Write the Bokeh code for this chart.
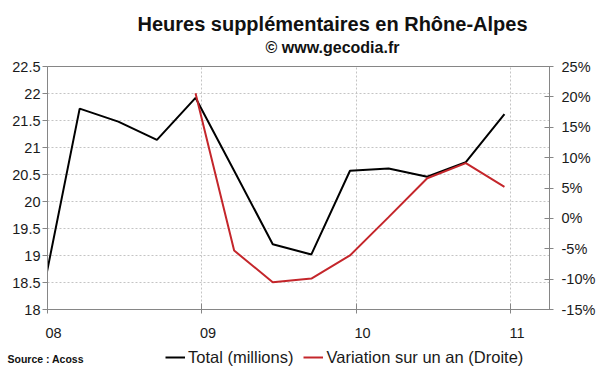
from bokeh.plotting import figure
from bokeh.models import (Range1d, LinearAxis, FixedTicker, PrintfTickFormatter,
                          Legend, LegendItem, Label)
from bokeh.layouts import column
from bokeh.embed import file_html
from bokeh.resources import INLINE

# ---- data ----
quarters = ["2007-T4", "2008-T1", "2008-T2", "2008-T3", "2008-T4",
            "2009-T1", "2009-T2", "2009-T3", "2009-T4",
            "2010-T1", "2010-T2", "2010-T3", "2010-T4"]
total_millions = [18.15, 21.72, 21.48, 21.14, 21.92, 20.57, 19.21, 19.02,
                  20.57, 20.61, 20.46, 20.73, 21.62]
variation_quarters = ["2008-T4", "2009-T1", "2009-T2", "2009-T3", "2009-T4",
                      "2010-T1", "2010-T2", "2010-T3", "2010-T4"]
variation_pct = [20.6, -5.3, -10.5, -9.9, -6.1, 0.2, 6.6, 9.1, 5.2]
year_ticks = [2008, 2009, 2010, 2011]
year_labels = ["08", "09", "10", "11"]
left_ticks = [18, 18.5, 19, 19.5, 20, 20.5, 21, 21.5, 22, 22.5]
right_ticks = [-15, -10, -5, 0, 5, 10, 15, 20, 25]

def qpos(q):
    y, t = q.split("-T")
    return int(y) + (3 * int(t) - 0.5) / 12.0

x_total = [qpos(q) for q in quarters]
x_var = [qpos(q) for q in variation_quarters]

FONT = "Liberation Sans"
AXIS_COL = "#868686"
GRID_COL = "#c4c4c4"
RED = "#c4262b"
TXT = "#1a1a1a"
NBSP = "\u00a0"


def strip(height):
    f = figure(width=600, height=height, output_backend="svg", toolbar_location=None,
               title=None, x_range=Range1d(0, 600), y_range=Range1d(0, height),
               min_border=0, x_axis_location=None, y_axis_location=None)
    f.frame_align = False
    f.xgrid.visible = False
    f.ygrid.visible = False
    f.outline_line_color = None
    f.background_fill_color = "white"
    f.border_fill_color = "white"
    return f


# ---- top strip: titles ----
t = strip(56)
t.add_layout(Label(x=332, y=33, text="Heures supplémentaires en Rhône-Alpes",
                   text_align="center", text_baseline="alphabetic", text_font=FONT,
                   text_font_size="20px", text_font_style="bold", text_color="#111111"))
t.add_layout(Label(x=332, y=9, text="© www.gecodia.fr",
                   text_align="center", text_baseline="alphabetic", text_font=FONT,
                   text_font_size="16px", text_font_style="bold", text_color="#111111"))

# ---- main chart ----
p = figure(width=600, height=290, output_backend="svg", toolbar_location=None,
           title=None,
           x_range=Range1d(2008, 2011.25), y_range=Range1d(18, 22.5),
           min_border_left=47, min_border_right=51, min_border_top=10,
           min_border_bottom=37, x_axis_location=None, y_axis_location=None)
p.frame_align = False
p.extra_y_ranges = {"pct": Range1d(-15, 25)}
p.background_fill_color = "white"
p.border_fill_color = "white"
p.outline_line_color = AXIS_COL
p.outline_line_width = 1

xaxis = LinearAxis(ticker=FixedTicker(ticks=year_ticks))
xaxis.major_label_overrides = {y: NBSP * 3 + lab for y, lab in zip(year_ticks, year_labels)}
xaxis.major_tick_in = 6
xaxis.major_tick_out = 4
xaxis.major_label_standoff = 11
xaxis.minor_tick_line_color = None
xaxis.axis_line_color = AXIS_COL
xaxis.major_tick_line_color = AXIS_COL
xaxis.major_label_text_font = FONT
xaxis.major_label_text_font_size = "14.5px"
xaxis.major_label_text_color = TXT
p.add_layout(xaxis, "below")

yaxis = LinearAxis(ticker=FixedTicker(ticks=left_ticks))
yaxis.major_label_overrides = {(int(v) if v == int(v) else v): (str(int(v)) if v == int(v) else str(v)) for v in left_ticks}
yaxis.major_tick_in = 0
yaxis.major_tick_out = 5
yaxis.major_label_standoff = 2
yaxis.minor_tick_line_color = None
yaxis.axis_line_color = AXIS_COL
yaxis.major_tick_line_color = AXIS_COL
yaxis.major_label_text_font = FONT
yaxis.major_label_text_font_size = "14.5px"
yaxis.major_label_text_color = TXT
p.add_layout(yaxis, "left")

raxis = LinearAxis(y_range_name="pct", ticker=FixedTicker(ticks=right_ticks),
                   formatter=PrintfTickFormatter(format="%d%%"))
raxis.major_tick_in = 5
raxis.major_tick_out = 4
raxis.major_label_standoff = 8
raxis.minor_tick_line_color = None
raxis.axis_line_color = AXIS_COL
raxis.major_tick_line_color = AXIS_COL
raxis.major_label_text_font = FONT
raxis.major_label_text_font_size = "14.5px"
raxis.major_label_text_color = TXT
p.add_layout(raxis, "right")

p.xgrid.ticker = FixedTicker(ticks=year_ticks)
p.ygrid.ticker = FixedTicker(ticks=left_ticks)
for g in (p.xgrid, p.ygrid):
    g.grid_line_color = GRID_COL
    g.grid_line_dash = "2 2"
    g.grid_line_width = 1

p.line(x_total, total_millions, line_color="black", line_width=2)
p.line(x_var, variation_pct, y_range_name="pct", line_color=RED, line_width=2)

# ---- bottom strip: legend and source ----
s = strip(26)
d1 = s.line([-50], [-50], line_color="black", line_width=2)
d2 = s.line([-50], [-50], line_color=RED, line_width=2)
legend = Legend(items=[LegendItem(label="Total (millions)", renderers=[d1]),
                       LegendItem(label="Variation sur un an (Droite)", renderers=[d2])],
                orientation="horizontal", location=(165, 5),
                glyph_width=20, glyph_height=20, label_height=20, label_standoff=3,
                spacing=10, padding=0, margin=0,
                border_line_color=None, background_fill_alpha=0,
                label_text_font=FONT, label_text_font_size="16.5px",
                label_text_color=TXT)
s.add_layout(legend, "center")
s.add_layout(Label(x=7, y=14, text="Source : Acoss", text_align="left",
                   text_baseline="middle", text_font=FONT, text_font_size="10.5px",
                   text_font_style="bold", text_color="#111111"))

layout = column(t, p, s, spacing=0)
open("out.html", "w").write(file_html(layout, INLINE))
